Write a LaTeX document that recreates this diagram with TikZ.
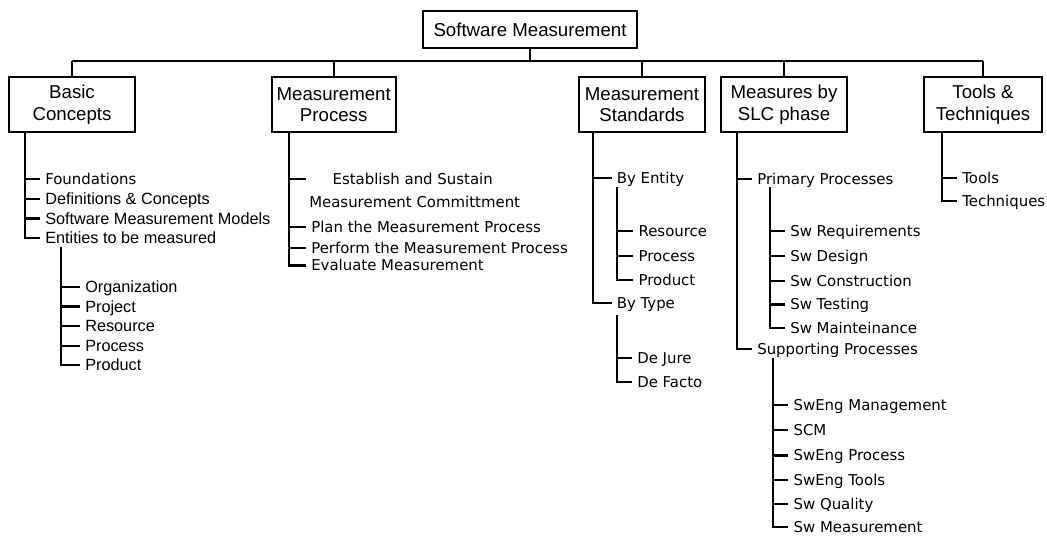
\documentclass[tikz,border=0pt]{standalone}
\usepackage{fontspec}
\setmainfont{Liberation Sans}
\newfontfamily\genfont{DejaVu Sans}
\usepackage{tikz}
\usetikzlibrary{positioning}

\tikzset{
  box/.style={draw, rectangle, line width=1.5pt, align=center, minimum height=41pt,
    minimum width=94pt, inner sep=2pt, font=\fontsize{14}{16.2}\selectfont},
  item/.style={anchor=west, inner ysep=0pt, inner xsep=3.75pt, text height=10pt,
    text depth=1.3pt, font=\fontsize{12.2}{14}\selectfont},
  gitem/.style={anchor=west, inner ysep=0pt, inner xsep=3.75pt, text height=9.6pt,
    text depth=1.5pt, font=\genfont\fontsize{11.2}{13}\selectfont},
  branch/.style={line width=1.6pt}
}

\begin{document}
\begin{tikzpicture}[x=0.75pt, y=-0.75pt]
\useasboundingbox (0,0) rectangle (1047,538);

% Root box
\node[box, minimum width=160pt, minimum height=27.5pt] (root) at (530,29.5) {Software Measurement};

% Area boxes
\node[box] (bc) at (72,104.5) {Basic\\Concepts};
\node[box, minimum width=93pt] (mp) at (333.7,104.5) {Measurement\\Process};
\node[box, minimum width=95pt] (ms) at (642,104.5) {Measurement\\Standards};
\node[box] (slc) at (784,104.5) {Measures by\\SLC phase};
\node[box, minimum width=88.5pt] (tt) at (983,104.5) {Tools \&\\Techniques};

% Bus from root to the area boxes
\coordinate (bus) at (0,61);
\draw[branch] (root.south) -- (root.south |- bus);
\draw[branch] (bus -| bc.north) -- (bus -| tt.north);
\draw[branch] (bus -| bc.north) -- (bc.north);
\draw[branch] (bus -| mp.north) -- (mp.north);
\draw[branch] (bus -| ms.north) -- (ms.north);
\draw[branch] (bus -| slc.north) -- (slc.north);
\draw[branch] (bus -| tt.north) -- (tt.north);

% Basic Concepts
\coordinate (bcT) at (25,132);
\node[gitem] (found) at (40,179) {Foundations};
\node[item] (defs) at (40,199) {Definitions \& Concepts};
\node[item] (models) at (40,218.5) {Software Measurement Models};
\node[item] (ent) at (40,238) {Entities to be measured};
\draw[branch] (bcT) |- (found.west) (bcT) |- (defs.west) (bcT) |- (models.west) (bcT) |- (ent.west);

\coordinate (entT) at (61,247);
\node[item] (org) at (80,286.7) {Organization};
\node[item] (proj) at (80,306.5) {Project};
\node[item] (res) at (80,326) {Resource};
\node[item] (proc) at (80,346) {Process};
\node[item] (prod) at (80,365) {Product};
\draw[branch] (entT) |- (org.west) (entT) |- (proj.west) (entT) |- (res.west) (entT) |- (proc.west) (entT) |- (prod.west);

% Measurement Process
\coordinate (mpT) at (289.3,132);
\node[gitem] (est) at (306,179) {\hspace{16pt}Establish and Sustain};
\node[gitem] (com) at (304,201.7) {Measurement Committment};
\node[gitem] (plan) at (306,226.7) {Plan the Measurement Process};
\node[gitem] (perf) at (306,248.3) {Perform the Measurement Process};
\node[gitem] (eval) at (306,265.5) {Evaluate Measurement};
\draw[branch] (mpT) |- (est.west) (mpT) |- (plan.west) (mpT) |- (perf.west) (mpT) |- (eval.west);

% Measurement Standards
\coordinate (msT) at (593.3,132);
\node[gitem] (byent) at (611.5,177.7) {By Entity};
\node[gitem] (bytype) at (611.5,303.3) {By Type};
\draw[branch] (msT) |- (byent.west) (msT) |- (bytype.west);

\coordinate (byentT) at (617.3,187.3);
\node[gitem] (sres) at (633.3,231) {Resource};
\node[gitem] (sproc) at (633.3,256) {Process};
\node[gitem] (sprod) at (633.3,280) {Product};
\draw[branch] (byentT) |- (sres.west) (byentT) |- (sproc.west) (byentT) |- (sprod.west);

\coordinate (bytypeT) at (617.3,315);
\node[gitem] (jure) at (632,358.3) {De Jure};
\node[gitem] (facto) at (632,381.7) {De Facto};
\draw[branch] (bytypeT) |- (jure.west) (bytypeT) |- (facto.west);

% Measures by SLC phase
\coordinate (slcT) at (737.3,132);
\node[gitem] (prim) at (752,179) {Primary Processes};
\node[gitem] (supp) at (752,349.3) {Supporting Processes};
\draw[branch] (slcT) |- (prim.west) (slcT) |- (supp.west);

\coordinate (primT) at (770,187.3);
\node[gitem] (swreq) at (785,231) {Sw Requirements};
\node[gitem] (swdes) at (785,256) {Sw Design};
\node[gitem] (swcon) at (785,280.7) {Sw Construction};
\node[gitem] (swtest) at (785,304.5) {Sw Testing};
\node[gitem] (swmaint) at (785,328.3) {Sw Mainteinance};
\draw[branch] (primT) |- (swreq.west) (primT) |- (swdes.west) (primT) |- (swcon.west)
  (primT) |- (swtest.west) (primT) |- (swmaint.west);

\coordinate (suppT) at (772.7,358);
\node[gitem] (mgmt) at (788.3,405) {SwEng Management};
\node[gitem] (scm) at (788.3,430) {SCM};
\node[gitem] (engproc) at (788.3,455.5) {SwEng Process};
\node[gitem] (engtools) at (788.3,480) {SwEng Tools};
\node[gitem] (qual) at (788.3,504) {Sw Quality};
\node[gitem] (swmeas) at (788.3,527) {Sw Measurement};
\draw[branch] (suppT) |- (mgmt.west) (suppT) |- (scm.west) (suppT) |- (engproc.west)
  (suppT) |- (engtools.west) (suppT) |- (qual.west) (suppT) |- (swmeas.west);

% Tools & Techniques
\coordinate (ttT) at (941.7,132);
\node[gitem] (tools) at (957,178.3) {Tools};
\node[gitem] (tech) at (957,201) {Techniques};
\draw[branch] (ttT) |- (tools.west) (ttT) |- (tech.west);
\end{tikzpicture}
\end{document}
